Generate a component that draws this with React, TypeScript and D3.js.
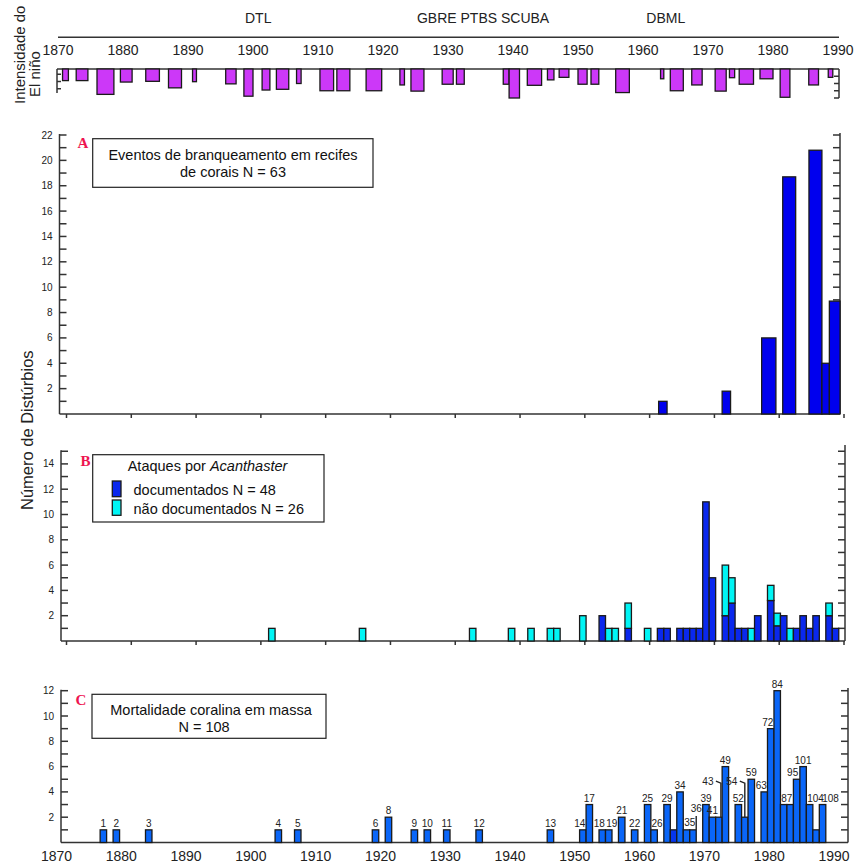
import React from "react";
import * as d3 from "d3";

const FONT = "'Liberation Sans', Arial, Helvetica, sans-serif";
const SERIF = "'Liberation Serif', 'Times New Roman', serif";

const decades = d3.range(1870, 1991, 10);

// El Niño events: start year, end year, intensity
const ninoEvents: [number, number, number][] = [
  [1870.7, 1871.6, 1.6], [1872.8, 1874.6, 1.6], [1876.0, 1878.6, 3.5], [1879.6, 1881.4, 1.8],
  [1883.5, 1885.6, 1.7], [1887.0, 1889.0, 2.6], [1890.7, 1891.3, 1.75], [1895.8, 1897.4, 2.05],
  [1898.6, 1900.0, 3.75], [1901.4, 1902.6, 2.9], [1903.6, 1905.5, 2.8], [1906.7, 1907.4, 2.0],
  [1910.3, 1912.4, 3.0], [1912.9, 1914.9, 3.0], [1917.4, 1919.8, 3.0], [1922.6, 1923.3, 2.2],
  [1924.3, 1926.3, 3.05], [1929.1, 1930.8, 2.1], [1931.3, 1932.5, 2.1], [1938.5, 1939.4, 2.1],
  [1939.4, 1941.0, 4.0], [1942.2, 1944.4, 2.25], [1945.3, 1946.3, 1.5], [1947.1, 1948.6, 1.15],
  [1950.0, 1951.4, 2.1], [1952.0, 1953.2, 2.1], [1955.8, 1957.9, 3.25], [1962.7, 1963.2, 1.35],
  [1964.2, 1966.2, 3.0], [1967.5, 1969.1, 2.2], [1971.1, 1972.8, 3.05], [1973.3, 1974.1, 1.2],
  [1974.8, 1977.0, 2.1], [1978.0, 1980.0, 1.35], [1981.1, 1982.6, 3.9], [1985.5, 1987.0, 2.2],
  [1988.5, 1989.2, 1.15],
];

const milestones: [string, number][] = [
  ["DTL", 1900.8],
  ["GBRE PTBS SCUBA", 1935.4],
  ["DBML", 1963.5],
];

// A: bleaching events (start, end, count)
const bleaching: [number, number, number][] = [
  [1961.7, 1963.0, 1], [1971.5, 1972.8, 1.8], [1977.6, 1979.8, 6], [1980.85, 1982.85, 18.7],
  [1984.9, 1986.9, 20.8], [1986.9, 1988.05, 4], [1988.05, 1989.7, 8.9],
];

// B: Acanthaster outbreaks
const acanthYears = [1902, 1916, 1933, 1939, 1942, 1945, 1946, 1950, 1953, 1954, 1955, 1957, 1960, 1962, 1963, 1965, 1966, 1967, 1968, 1969, 1970, 1972, 1973, 1974, 1975, 1976, 1977, 1979, 1980, 1981, 1982, 1983, 1984, 1985, 1986, 1988, 1989];
const acanthDocumented = [0, 0, 0, 0, 0, 0, 0, 0, 2, 0, 0, 1, 0, 1, 1, 1, 1, 1, 1, 11, 5, 2, 3, 1, 1, 0, 2, 3.2, 1.2, 2, 0, 1, 2, 1, 2, 2, 1];
const acanthUndocumented = [1, 1, 1, 1, 1, 1, 1, 2, 0, 1, 1, 2, 1, 0, 0, 0, 0, 0, 0, 0, 0, 4, 2, 0, 0, 1, 0, 1.2, 1, 0, 1, 0, 0, 0, 0, 1, 0];

// C: mass coral mortality
const mortYears = [1876, 1878, 1883, 1903, 1906, 1918, 1920, 1924, 1926, 1929, 1934, 1945, 1950, 1951, 1953, 1954, 1956, 1958, 1960, 1961, 1963, 1964, 1965, 1966, 1967, 1969, 1970, 1971, 1972, 1974, 1975, 1976, 1978, 1979, 1980, 1981, 1982, 1983, 1984, 1985, 1986, 1987];
const mortCounts = [1, 1, 1, 1, 1, 1, 2, 1, 1, 1, 1, 1, 1, 3, 1, 1, 2, 1, 3, 1, 3, 1, 4, 1, 1, 3, 2, 2, 6, 3, 2, 5, 4, 9, 12, 3, 3, 5, 6, 3, 1, 3];
const mortUnlabelled = [1964, 1982, 1986];
const mortDarker = [1964];
// small horizontal nudges of the running-total labels, as in the original
const labelNudge: Record<string, number> = { "14": -3, "18": -3, "19": 3, "26": 3, "63": -3, "72": -3, "87": 3, "95": -4, "104": 6, "108": 8 };

const NINO = "#cc38f8";
const BLUE_A = "#0000ee";
const BLUE_B = "#0a28ee";
const CYAN = "#00f5f5";
const BLUE_C = "#0a66f8";
const AXIS = "#333";
const RED = "#ee1450";

export default function App() {
  const xTop = d3.scaleLinear().domain([1870, 1990]).range([58, 838]);
  const x = d3.scaleLinear().domain([1870, 1990]).range([64.5, 842]);
  const ninoY = d3.scaleLinear().domain([0, 4]).range([69, 98]);
  const yA = d3.scaleLinear().domain([0, 22]).range([414, 135]);
  const yB = d3.scaleLinear().domain([0, 15]).range([641, 451.25]);
  const yC = d3.scaleLinear().domain([0, 12]).range([842.5, 690.7]);

  const cum = Array.from(d3.cumsum(mortCounts));

  const frame = (y: any, max: number, left: number, right: number, rightTop: number, bottomTicks: boolean, key: string) => {
    const ticks = d3.range(1, max + 1);
    const base = y(0);
    return (
      <g key={key}>
        <g stroke={AXIS} strokeWidth={1.5} fill="none">
          <line x1={left} x2={left} y1={y(max) - 1} y2={base} />
          <line x1={right} x2={right} y1={rightTop} y2={base} />
          <line x1={left} x2={right} y1={base} y2={base} />
          {ticks.map((t) => (
            <line key={"l" + t} x1={left} x2={left + 7} y1={y(t)} y2={y(t)} />
          ))}
          {ticks.map((t) => (
            <line key={"r" + t} x1={right - 7} x2={right} y1={y(t)} y2={y(t)} />
          ))}
          {bottomTicks &&
            decades.map((d) => (
              <line key={"b" + d} x1={x(d) + 2} x2={x(d) + 2} y1={base} y2={base + 4} />
            ))}
        </g>
        <g fontFamily={FONT} fontSize={10} fill="#222" textAnchor="end">
          {ticks
            .filter((t) => t % 2 === 0)
            .map((t) => (
              <text key={"t" + t} x={left - 7} y={y(t)} dy="0.35em">
                {t}
              </text>
            ))}
        </g>
      </g>
    );
  };

  const bar = (x0: number, x1: number, y0: number, y1: number, fill: string, key: string) => (
    <rect
      key={key}
      x={Math.min(x0, x1)}
      y={Math.min(y0, y1)}
      width={Math.abs(x1 - x0)}
      height={Math.abs(y1 - y0)}
      fill={fill}
      stroke="#1a1a1a"
      strokeWidth={1.3}
    />
  );

  return (
    <svg
      width={856}
      height={864}
      style={{ position: "absolute", left: 0, top: 0, background: "#fff" }}
    >
      <rect width={856} height={864} fill="#fff" />

      {/* El Niño strip */}
      <g fontFamily={FONT} fill="#222">
        <text transform="translate(25,104) rotate(-90)" fontSize={15}>Intensidade do</text>
        <text transform="translate(40,97) rotate(-90)" fontSize={15}>El niño</text>
        {milestones.map(([t, yr]) => (
          <text key={t} x={xTop(yr)} y={23} fontSize={14} textAnchor="middle">
            {t}
          </text>
        ))}
        {decades.map((d) => (
          <text key={d} x={xTop(d)} y={55} fontSize={14} textAnchor="middle">
            {d}
          </text>
        ))}
      </g>
      <g stroke={AXIS} strokeWidth={1.5} fill="none">
        <line x1={xTop(1870)} x2={xTop(1990) + 1} y1={37.3} y2={37.3} />
        <line x1={57} x2={839} y1={ninoY(0)} y2={ninoY(0)} />
        <line x1={57} x2={57} y1={ninoY(0)} y2={ninoY(3.3)} />
        {[1, 2, 3].map((t) => (
          <line key={t} x1={57} x2={61} y1={ninoY(t) - 2} y2={ninoY(t) - 2} />
        ))}
        <line x1={839} x2={839} y1={ninoY(0)} y2={ninoY(4)} />
        {[1, 2, 3, 4].map((t) => (
          <line key={"r" + t} x1={834} x2={839} y1={ninoY(t)} y2={ninoY(t)} />
        ))}
      </g>
      <g>
        {ninoEvents.map(([s, e, v], i) => bar(xTop(s), xTop(e), ninoY(0), ninoY(v), NINO, "n" + i))}
      </g>

      {/* Y title */}
      <text transform="translate(33,510) rotate(-90)" fontFamily={FONT} fontSize={16.5} fill="#222">
        Número de Distúrbios
      </text>

      {/* Panel A */}
      {frame(yA, 22, 59.5, 840, yA(22) - 2, true, "fa")}
      <g>
        {bleaching.map(([s, e, v], i) => bar(x(s), x(e), yA(0), yA(v), BLUE_A, "a" + i))}
      </g>
      <text x={77.5} y={148} fontFamily={SERIF} fontWeight="bold" fontSize={15} fill={RED}>A</text>
      <rect x={92.7} y={138.7} width={280.3} height={48.6} fill="#fff" stroke="#222" strokeWidth={1.2} />
      <g fontFamily={FONT} fontSize={14.5} fill="#111" textAnchor="middle">
        <text x={233} y={160}>Eventos de branqueamento em recifes</text>
        <text x={233} y={177}>de corais N = 63</text>
      </g>

      {/* Panel B */}
      {frame(yB, 15, 61, 845, 445, true, "fb")}
      <g>
        {acanthYears.map((yr, i) => {
          const doc = acanthDocumented[i];
          const und = acanthUndocumented[i];
          const out = [];
          if (doc > 0) out.push(bar(x(yr - 0.5), x(yr + 0.5), yB(0), yB(doc), BLUE_B, "bd" + yr));
          if (und > 0) out.push(bar(x(yr - 0.5), x(yr + 0.5), yB(doc), yB(doc + und), CYAN, "bu" + yr));
          return out;
        })}
      </g>
      <text x={80.5} y={466} fontFamily={SERIF} fontWeight="bold" fontSize={15} fill={RED}>B</text>
      <rect x={92.7} y={454.7} width={231.3} height={67.3} fill="#fff" stroke="#222" strokeWidth={1.2} />
      <g fontFamily={FONT} fontSize={14.5} fill="#111">
        <text x={207.5} y={471} textAnchor="middle">
          Ataques por <tspan fontStyle="italic">Acanthaster</tspan>
        </text>
        <rect x={112.3} y={481} width={8.7} height={15.7} fill={BLUE_B} stroke="#1a1a1a" strokeWidth={1.3} />
        <rect x={112.3} y={500} width={8.7} height={15.3} fill={CYAN} stroke="#1a1a1a" strokeWidth={1.3} />
        <text x={133.5} y={495}>documentados N = 48</text>
        <text x={133.5} y={514}>não documentados N = 26</text>
      </g>

      {/* Panel C */}
      {frame(yC, 12, 61, 848, 688, false, "fc")}
      <g>
        {mortYears.map((yr, i) =>
          bar(x(yr - 0.5), x(yr + 0.5), yC(0), yC(mortCounts[i]), mortDarker.includes(yr) ? "#0636ee" : BLUE_C, "c" + yr)
        )}
      </g>
      <g fontFamily={FONT} fontSize={10} fill="#222" textAnchor="middle">
        {mortYears.map((yr, i) => {
          if (mortUnlabelled.includes(yr)) return null;
          const label = String(cum[i]);
          const top = yC(mortCounts[i]);
          if (label === "35") {
            return <text key={yr} x={x(yr + 0.5)} y={top - 4}>{label}</text>;
          }
          if (label === "36") {
            return (
              <g key={yr}>
                <line x1={x(yr + 0.5)} x2={x(yr + 0.5)} y1={top} y2={yC(2.1)} stroke="#222" strokeWidth={1.4} />
                <text x={x(yr + 0.5)} y={yC(2.1) - 4}>{label}</text>
              </g>
            );
          }
          if (label === "43" || label === "54") {
            const lx = x(yr) + (label === "43" ? 2 : 0);
            const ly = top - 36;
            return (
              <g key={yr}>
                <polyline
                  points={`${lx - 5},${ly} ${lx},${ly + 2} ${lx},${top}`}
                  fill="none"
                  stroke="#222"
                  strokeWidth={1.4}
                />
                <text x={lx - 13} y={ly + 4}>{label}</text>
              </g>
            );
          }
          return (
            <text key={yr} x={x(yr) + (labelNudge[label] || 0)} y={top - 3}>
              {label}
            </text>
          );
        })}
      </g>
      <text x={75.5} y={705} fontFamily={SERIF} fontWeight="bold" fontSize={15} fill={RED}>C</text>
      <rect x={92} y={694.3} width={234} height={44} fill="#fff" stroke="#222" strokeWidth={1.2} />
      <g fontFamily={FONT} fontSize={14.5} fill="#111" textAnchor="middle">
        <text x={211} y={715}>Mortalidade coralina em massa</text>
        <text x={204} y={732}>N = 108</text>
      </g>
      <g fontFamily={FONT} fontSize={14} fill="#222" textAnchor="middle">
        {decades.map((d) => (
          <text key={d} x={x(d) - 8} y={861}>
            {d}
          </text>
        ))}
      </g>
    </svg>
  );
}
